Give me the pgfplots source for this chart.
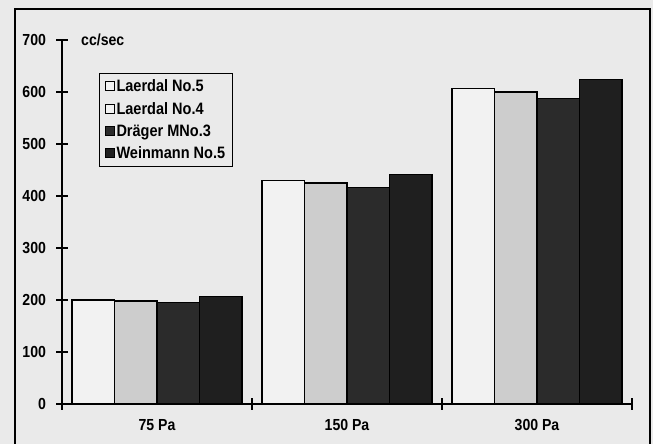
\documentclass[border=0pt]{standalone}
\usepackage{fontspec}
\setmainfont{Liberation Sans}
\newfontfamily\cf[FakeStretch=0.88]{Liberation Sans}
\usepackage{pgfplots}
\pgfplotsset{compat=1.18}
\definecolor{paper}{HTML}{EAEAEA}
\definecolor{lfive}{HTML}{F2F2F2}
\definecolor{lfour}{HTML}{CDCDCD}
\definecolor{drag}{HTML}{2B2B2B}
\definecolor{wein}{HTML}{1F1F1F}
\begin{document}
\begin{tikzpicture}[x=1pt,y=1pt]
\useasboundingbox (-62,-40) rectangle (591,404);
\fill[paper] (-62,-40) rectangle (591,404);
\draw[line width=1.2pt] (-47,-45) -- (-47,395) -- (588,395) -- (588,-45);
\begin{axis}[
  at={(0,0)}, anchor=south west,
  scale only axis, width=570pt, height=364pt,
  xmin=-0.5, xmax=2.5, ymin=0, ymax=700,
  axis lines=left, axis line style={-, line width=1.2pt},
  ybar=0pt, bar width=42.5pt,
  xtick={-0.5,0.5,1.5,2.5}, xticklabels={},
  extra x ticks={0,1,2}, extra x tick labels={75 Pa,150 Pa,300 Pa},
  extra x tick style={major tick length=0pt},
  xticklabel style={yshift=-12pt},
  ytick={0,100,...,700},
  tick align=center, major tick length=11pt,
  tick style={line width=1.2pt, black},
  yticklabel style={xshift=-7pt},
  ticklabel style={font=\cf\bfseries\fontsize{16}{16}\selectfont},
  /pgf/number format/assume math mode=true,
  clip=false,
  legend cell align=left,
  legend style={at={(rel axis cs:0.065,0.909)}, anchor=north west,
    draw=black, line width=1.1pt, fill=paper,
    font=\cf\bfseries\fontsize{16.5}{16.5}\selectfont,
    row sep=5pt, inner xsep=5pt, inner ysep=4pt,
    nodes={inner xsep=2pt}},
  legend image code/.code={\draw[#1, line width=0.9pt] (0pt,-4.5pt) rectangle (9pt,4.5pt);},
]
\addplot[forget plot, bar shift=-63.75pt, fill=lfive, draw=black, line width=1.1pt] coordinates {(0,200) (1,429) (2,606)};
\addplot[forget plot, bar shift=-21.25pt, fill=lfour, draw=black, line width=1.1pt] coordinates {(0,198) (1,425) (2,600)};
\addplot[forget plot, bar shift=21.25pt, fill=drag, draw=black, line width=1.1pt] coordinates {(0,195) (1,416) (2,587)};
\addplot[forget plot, bar shift=63.75pt, fill=wein, draw=black, line width=1.1pt] coordinates {(0,207) (1,442) (2,624)};
\addlegendimage{fill=lfive, draw=black}
\addlegendimage{fill=lfive, draw=black}
\addlegendimage{fill=drag, draw=black}
\addlegendimage{fill=wein, draw=black}
\legend{Laerdal No.5, Laerdal No.4, Dräger MNo.3, Weinmann No.5}
\node[anchor=west, font=\cf\bfseries\fontsize{16}{16}\selectfont, inner sep=0pt] at (axis cs:-0.4,700) {cc/sec};
\end{axis}
\end{tikzpicture}
\end{document}
